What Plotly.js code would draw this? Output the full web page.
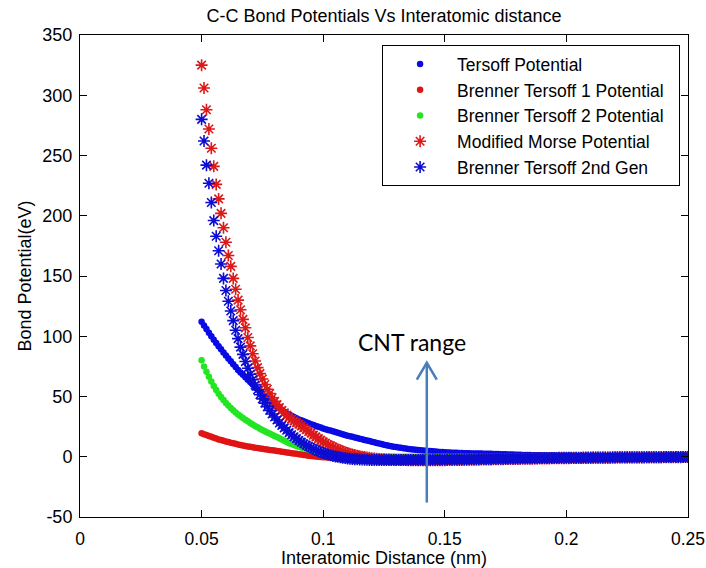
<!DOCTYPE html>
<html>
<head>
<meta charset="utf-8">
<script src="https://cdn.plot.ly/plotly-3.0.1.min.js"></script>
<style>html,body{margin:0;padding:0;background:#fff;}#chart{width:706px;height:568px;}</style>
</head>
<body>
<div id="chart"></div>
<script>
// Sampling grid of the interatomic distance (nm)
const xStart = 0.05;
const xStep = 0.001;

// Tersoff Potential (blue dots)
const tersoff = [
112,109,106,103,100,97,94.4,91.8,89.2,86.6,
84,81.6,79.2,76.8,74.4,72,70,68,66,64,
62,60,58,56,54,52,50.2,48.4,46.6,44.8,
43,41.6,40.2,38.8,37.4,36,35,34,33,32,
31,30.2,29.4,28.6,27.8,27,26.3,25.6,24.9,24.2,
23.5,22.9,22.3,21.7,21.1,20.5,19.9,19.3,18.7,18.1,
17.5,17,16.5,16,15.5,15,14.5,14,13.5,13,
12.5,12,11.5,11,10.5,10,9.6,9.2,8.8,8.4,
8,7.7,7.4,7.1,6.8,6.5,6.3,6,5.8,5.5,
5.3,5.1,5,4.8,4.7,4.5,4.3,4.2,4,3.9,
3.7,3.6,3.5,3.4,3.4,3.3,3.2,3.1,3,3,
2.9,2.8,2.8,2.7,2.6,2.6,2.5,2.5,2.4,2.4,
2.3,2.2,2.2,2.1,2,2,1.9,1.8,1.8,1.7,
1.6,1.6,1.5,1.5,1.4,1.4,1.3,1.3,1.2,1.2,
1.1,1.1,1.1,1,1,1,0.9,0.9,0.9,0.8,
0.8,0.8,0.8,0.7,0.7,0.7,0.7,0.6,0.6,0.6,
0.6,0.6,0.5,0.5,0.5,0.5,0.5,0.5,0.4,0.4,
0.4,0.4,0.4,0.4,0.4,0.4,0.4,0.4,0.4,0.4,
0.3,0.3,0.3,0.3,0.3,0.3,0.3,0.3,0.3,0.3,
0.2,0.2,0.2,0.2,0.2,0.2,0.2,0.2,0.2,0.2,
0.2];

// Brenner Tersoff 1 Potential (red dots)
const brenner1 = [
19.5,18.7,18,17.2,16.5,15.8,15.1,14.4,13.8,13.2,
12.7,12.2,11.7,11.2,10.7,10.2,9.8,9.4,9,8.6,
8.2,7.8,7.5,7.2,6.9,6.6,6.3,6,5.7,5.4,
5.1,4.8,4.5,4.2,3.9,3.6,3.3,3,2.7,2.4,
2.1,1.8,1.5,1.2,0.9,0.6,0.4,0.2,0,-0.2,
-0.4,-0.5,-0.6,-0.7,-0.8,-0.9,-1,-1,-1.1,-1.1,
-1.2,-1.2,-1.2,-1.2,-1.2,-1.2,-1.2,-1.2,-1.2,-1.2,
-1.2,-1.2,-1.2,-1.2,-1.2,-1.2,-1.2,-1.2,-1.2,-1.2,
-1.1,-1.1,-1.1,-1.1,-1.1,-1.1,-1.1,-1.1,-1.1,-1.1,
-1,-1,-1,-1,-1,-1,-1,-1,-1,-1,
-0.9,-0.9,-0.9,-0.9,-0.9,-0.9,-0.9,-0.9,-0.9,-0.9,
-0.8,-0.8,-0.8,-0.8,-0.8,-0.8,-0.8,-0.8,-0.8,-0.8,
-0.7,-0.7,-0.7,-0.7,-0.7,-0.7,-0.7,-0.7,-0.7,-0.7,
-0.6,-0.6,-0.6,-0.6,-0.6,-0.6,-0.6,-0.6,-0.6,-0.6,
-0.5,-0.5,-0.5,-0.5,-0.5,-0.5,-0.5,-0.5,-0.5,-0.5,
-0.4,-0.4,-0.4,-0.4,-0.4,-0.4,-0.4,-0.4,-0.4,-0.4,
-0.3,-0.3,-0.3,-0.3,-0.3,-0.3,-0.3,-0.3,-0.3,-0.3,
-0.2,-0.2,-0.2,-0.2,-0.2,-0.2,-0.2,-0.2,-0.2,-0.2,
-0.2,-0.2,-0.2,-0.2,-0.2,-0.2,-0.2,-0.2,-0.2,-0.2,
-0.1,-0.1,-0.1,-0.1,-0.1,-0.1,-0.1,-0.1,-0.1,-0.1,
-0.1];

// Brenner Tersoff 2 Potential (green dots)
const brenner2 = [
80,75,70.5,66.3,62.4,58.8,55.4,52.3,49.5,47,
44.7,42.5,40.5,38.6,36.8,35.1,33.6,32.1,30.7,29.4,
28.1,26.8,25.6,24.4,23.3,22.2,21.2,20.2,19.3,18.3,
17.3,16.3,15.3,14.3,13.3,12.3,11.3,10.5,9.7,9,
8.3,7.6,7,6.4,5.8,5.3,4.8,4.3,3.9,3.5,
3.1,2.8,2.5,2.2,2,1.8,1.6,1.4,1.2,1.1,
1,0.9,0.8,0.7,0.6,0.5,0.4,0.3,0.3,0.2,
0.2,0.1,0.1,0.1,0.1,0.1,0.1,0.1,0.1,0.1,
0,0,0,0,0,0,0,0,0,0,
0,0,0,0,0,0,0,0,0,0,
0,0,0,0,0,0,0,0,0,0,
0,0,0,0,0,0,0,0,0,0,
0,0,0,0,0,0,0,0,0,0,
0,0,0,0,0,0,0,0,0,0,
0,0,0,0,0,0,0,0,0,0,
0,0,0,0,0,0,0,0,0,0,
0,0,0,0,0,0,0,0,0,0,
0,0,0,0,0,0,0,0,0,0,
0,0,0,0,0,0,0,0,0,0,
0,0,0,0,0,0,0,0,0,0,
0];

// Modified Morse Potential (red stars)
const morse = [
325,306,288,272,256,241,226,214,202,190,
178,167,158,148,139,130,122,114,107,99,
92,85.5,79.5,74,69,64.5,60,56,52.5,49,
46,43.3,40.8,38.5,36.4,34.5,32.8,31.2,29.7,28.3,
27,25.5,24,22.5,21,19.5,18,16.5,15,13.7,
12.4,11.2,10,9,8,7,6.1,5.3,4.5,3.8,
3.1,2.5,1.9,1.4,0.9,0.5,0.1,-0.3,-0.6,-0.9,
-1.2,-1.4,-1.6,-1.8,-2,-2.1,-2.2,-2.3,-2.4,-2.5,
-2.6,-2.7,-2.7,-2.8,-2.8,-2.9,-2.9,-2.9,-3,-3,
-3,-3,-3,-3,-3,-3,-3,-2.9,-2.9,-2.9,
-2.9,-2.8,-2.8,-2.8,-2.7,-2.7,-2.7,-2.6,-2.6,-2.6,
-2.5,-2.5,-2.4,-2.4,-2.4,-2.3,-2.3,-2.2,-2.2,-2.2,
-2.1,-2.1,-2,-2,-2,-1.9,-1.9,-1.9,-1.8,-1.8,
-1.8,-1.7,-1.7,-1.7,-1.6,-1.6,-1.6,-1.5,-1.5,-1.5,
-1.5,-1.4,-1.4,-1.4,-1.3,-1.3,-1.3,-1.3,-1.2,-1.2,
-1.2,-1.2,-1.1,-1.1,-1.1,-1.1,-1,-1,-1,-1,
-1,-0.9,-0.9,-0.9,-0.9,-0.9,-0.8,-0.8,-0.8,-0.8,
-0.8,-0.7,-0.7,-0.7,-0.7,-0.7,-0.7,-0.6,-0.6,-0.6,
-0.6,-0.6,-0.6,-0.5,-0.5,-0.5,-0.5,-0.5,-0.5,-0.5,
-0.4,-0.4,-0.4,-0.4,-0.4,-0.4,-0.4,-0.4,-0.3,-0.3,
-0.3];

// Brenner Tersoff 2nd Gen (blue stars)
const brennerGen2 = [
280,262,242,227,211,196,183,171,160,148,
138,129,121,113,105,98,91,85,79,73.5,
68.5,64,59.5,55.5,51.5,48,44.5,41.5,38.5,35.5,
33,30.5,28,26,24,22,20,18.3,16.6,15,
13.5,12.1,10.8,9.6,8.5,7.4,6.4,5.5,4.6,3.8,
3.1,2.4,1.8,1.2,0.7,0.3,-0.1,-0.5,-0.8,-1.1,
-1.4,-1.6,-1.8,-2,-2.1,-2.2,-2.3,-2.4,-2.5,-2.6,
-2.6,-2.7,-2.7,-2.7,-2.8,-2.8,-2.8,-2.8,-2.8,-2.8,
-2.8,-2.8,-2.8,-2.8,-2.8,-2.7,-2.7,-2.7,-2.7,-2.7,
-2.7,-2.6,-2.6,-2.6,-2.6,-2.5,-2.5,-2.5,-2.5,-2.4,
-2.4,-2.4,-2.3,-2.3,-2.3,-2.2,-2.2,-2.2,-2.1,-2.1,
-2.1,-2,-2,-2,-1.9,-1.9,-1.9,-1.8,-1.8,-1.8,
-1.7,-1.7,-1.7,-1.6,-1.6,-1.6,-1.5,-1.5,-1.5,-1.4,
-1.4,-1.4,-1.3,-1.3,-1.3,-1.3,-1.2,-1.2,-1.2,-1.1,
-1.1,-1.1,-1.1,-1,-1,-1,-1,-0.9,-0.9,-0.9,
-0.9,-0.9,-0.8,-0.8,-0.8,-0.8,-0.8,-0.7,-0.7,-0.7,
-0.7,-0.7,-0.7,-0.6,-0.6,-0.6,-0.6,-0.6,-0.6,-0.5,
-0.5,-0.5,-0.5,-0.5,-0.5,-0.5,-0.5,-0.5,-0.5,-0.5,
-0.4,-0.4,-0.4,-0.4,-0.4,-0.4,-0.4,-0.4,-0.4,-0.4,
-0.3,-0.3,-0.3,-0.3,-0.3,-0.2,-0.2,-0.2,-0.2,-0.2,
-0.2];

const seriesNames = ['Tersoff Potential','Brenner Tersoff 1 Potential','Brenner Tersoff 2 Potential','Modified Morse Potential','Brenner Tersoff 2nd Gen'];
const xTickVals = [0, 0.05, 0.1, 0.15, 0.2, 0.25];
const xTickText = ['0','0.05','0.1','0.15','0.2','0.25'];
const yTickVals = [-50, 0, 50, 100, 150, 200, 250, 300, 350];
const yTickText = ['-50','0','50','100','150','200','250','300','350'];

const xs = tersoff.map((_, i) => +(xStart + i * xStep).toFixed(3));

const FONT = 'Liberation Sans, Arial, sans-serif';
const PAD = '\u00a0\u00a0';

function dotTrace(y, name, color, group) {
  return {x: xs, y: y, name: name + PAD, type: 'scatter', mode: 'markers', legendgroup: group,
    marker: {symbol: 'circle', size: 6.5, color: color, line: {width: 0}}};
}
function starTrace(y, name, color, group) {
  return {x: xs, y: y, name: name + PAD, type: 'scatter', mode: 'markers', legendgroup: group,
    marker: {symbol: 'asterisk-open', size: 10, color: color, line: {width: 1.6, color: color}}};
}

const data = [
  dotTrace(tersoff, seriesNames[0], '#0a0ae6', 'g1'),
  dotTrace(brenner1, seriesNames[1], '#e01414', 'g2'),
  dotTrace(brenner2, seriesNames[2], '#22e622', 'g3'),
  starTrace(morse, seriesNames[3], '#dc1818', 'g4'),
  starTrace(brennerGen2, seriesNames[4], '#0c0cd2', 'g5')
];

// annotation (arrow marking the CNT range)
const arrowX = 0.1426, arrowTail = -38, arrowTip = 78, headDX = 0.0041, headDY = 14;

const layout = {
  width: 706, height: 568,
  margin: {l: 80, r: 18, t: 35, b: 51},
  paper_bgcolor: '#ffffff', plot_bgcolor: '#ffffff',
  font: {family: FONT, size: 18, color: '#000'},
  showlegend: true,
  title: {text: 'C-C Bond Potentials Vs Interatomic distance', font: {family: FONT, size: 18, color: '#000'},
    x: 0.5, xref: 'paper', y: 0.972, yref: 'container', yanchor: 'middle'},
  xaxis: {range: [0, 0.25], tickvals: xTickVals, ticktext: xTickText, ticks: 'inside', ticklen: 7,
    tickcolor: '#000', showline: true, linecolor: '#000', linewidth: 1, mirror: 'ticks',
    showgrid: false, zeroline: false, ticklabelstandoff: 6, ticklabeloverflow: 'allow',
    tickfont: {family: FONT, size: 17.5, color: '#000'},
    title: {text: 'Interatomic Distance (nm)', font: {family: FONT, size: 18, color: '#000'}, standoff: 6}},
  yaxis: {range: [-50, 350], tickvals: yTickVals, ticktext: yTickText, ticks: 'inside', ticklen: 7,
    tickcolor: '#000', showline: true, linecolor: '#000', linewidth: 1, mirror: 'ticks',
    showgrid: false, zeroline: false, ticklabelstandoff: 3, ticklabeloverflow: 'allow',
    tickfont: {family: FONT, size: 18, color: '#000'},
    title: {text: 'Bond Potential(eV)', font: {family: FONT, size: 18, color: '#000'}, standoff: 6}},
  legend: {x: 0.987, xanchor: 'right', y: 0.979, yanchor: 'top', bgcolor: '#fff',
    bordercolor: '#000', borderwidth: 1, font: {family: FONT, size: 17.5, color: '#000'},
    itemwidth: 64, traceorder: 'grouped', tracegroupgap: 0},
  shapes: [
    {type: 'line', xref: 'x', yref: 'y', x0: arrowX, x1: arrowX, y0: arrowTail, y1: arrowTip,
      line: {color: '#4a7ebb', width: 2.5}},
    {type: 'path', xref: 'x', yref: 'y',
      path: 'M ' + (arrowX - headDX) + ',' + (arrowTip - headDY) + ' L ' + arrowX + ',' + arrowTip + ' L ' + (arrowX + headDX) + ',' + (arrowTip - headDY),
      line: {color: '#4a7ebb', width: 2.5}}
  ],
  annotations: [
    {text: 'CNT range', x: 0.1365, y: 95, xref: 'x', yref: 'y', showarrow: false,
      font: {family: 'Lato, Carlito, sans-serif', size: 23, color: '#000'}, xanchor: 'center', yanchor: 'middle'}
  ]
};

Plotly.newPlot('chart', data, layout, {staticPlot: true, displayModeBar: false});
</script>
</body>
</html>
